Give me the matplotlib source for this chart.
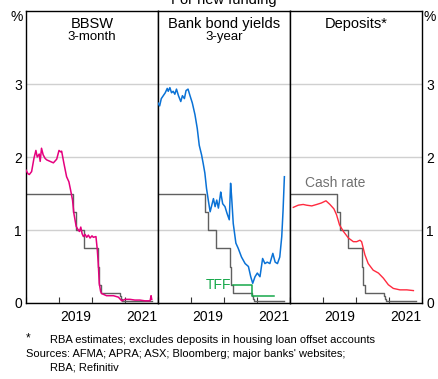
import matplotlib
matplotlib.use("Agg")
import matplotlib.pyplot as plt
import numpy as np

plt.rcParams['font.family'] = ['Liberation Sans', 'DejaVu Sans']

# cash rate (interbank overnight), step series
cash_t = [2018.0, 2019.42, 2019.51, 2019.75, 2020.17, 2020.21, 2020.26, 2020.84, 2020.88, 2020.92, 2021.83]
cash_v = [1.50, 1.25, 1.00, 0.75, 0.50, 0.25, 0.14, 0.10, 0.05, 0.03, 0.03]

# BBSW 3-month
bbsw_t = [2018.0, 2018.06, 2018.10, 2018.17, 2018.24, 2018.30, 2018.34, 2018.40, 2018.43,
          2018.47, 2018.52, 2018.58, 2018.63, 2018.73, 2018.83, 2018.93, 2019.0, 2019.05,
          2019.08, 2019.15, 2019.23, 2019.30, 2019.35, 2019.41, 2019.45, 2019.52, 2019.57,
          2019.62, 2019.66, 2019.70, 2019.74, 2019.79, 2019.84, 2019.89, 2019.94, 2020.0,
          2020.04, 2020.12, 2020.16, 2020.19, 2020.22, 2020.26, 2020.29, 2020.44, 2020.65,
          2020.80, 2020.90, 2021.0, 2021.15, 2021.30, 2021.45, 2021.60, 2021.76, 2021.79, 2021.81]
bbsw_v = [1.82, 1.77, 1.76, 1.80, 1.98, 2.09, 2.00, 2.04, 1.94,
          2.12, 2.03, 1.98, 1.96, 1.94, 1.92, 1.97, 2.09, 2.07,
          2.08, 1.91, 1.73, 1.66, 1.55, 1.41, 1.23, 1.05, 1.01,
          0.98, 1.04, 0.95, 0.91, 0.94, 0.90, 0.93, 0.89, 0.92,
          0.90, 0.91, 0.73, 0.54, 0.27, 0.16, 0.13, 0.10, 0.10,
          0.08, 0.03, 0.05, 0.05, 0.04, 0.04, 0.03, 0.03, 0.10, 0.05]

# bank bond yields 3-year
bond_t = [2018.0, 2018.05, 2018.10, 2018.16, 2018.22, 2018.28, 2018.31, 2018.36, 2018.41,
          2018.46, 2018.51, 2018.56, 2018.62, 2018.69, 2018.74, 2018.80, 2018.85, 2018.91,
          2018.97, 2019.04, 2019.12, 2019.19, 2019.25, 2019.32, 2019.37, 2019.42, 2019.47,
          2019.53, 2019.58, 2019.63, 2019.68, 2019.73, 2019.78, 2019.83, 2019.88, 2019.90,
          2019.96, 2020.03, 2020.09, 2020.16, 2020.20, 2020.23, 2020.28, 2020.36, 2020.43,
          2020.53, 2020.64, 2020.74, 2020.81, 2020.87, 2020.94, 2021.01, 2021.09, 2021.17,
          2021.24, 2021.31, 2021.39, 2021.48, 2021.55, 2021.62, 2021.69, 2021.75, 2021.79, 2021.83]
bond_v = [2.74, 2.70, 2.80, 2.84, 2.88, 2.94, 2.90, 2.95, 2.88,
          2.90, 2.86, 2.93, 2.84, 2.76, 2.84, 2.80, 2.91, 2.93,
          2.84, 2.74, 2.58, 2.39, 2.16, 2.03, 1.91, 1.78, 1.57,
          1.39, 1.25, 1.34, 1.43, 1.32, 1.41, 1.30, 1.45, 1.52,
          1.36, 1.32, 1.23, 1.14, 1.64, 1.46, 1.09, 0.82, 0.75,
          0.63, 0.54, 0.50, 0.36, 0.27, 0.36, 0.41, 0.36, 0.61,
          0.54, 0.56, 0.54, 0.68, 0.56, 0.54, 0.63, 0.91, 1.27, 1.73]

# TFF rate
tff_t = [2020.26, 2020.84, 2020.84, 2021.50]
tff_v = [0.25, 0.25, 0.10, 0.10]

# deposits
dep_t = [2018.10, 2018.25, 2018.40, 2018.50, 2018.66, 2018.81, 2018.95, 2019.09, 2019.21,
         2019.33, 2019.41, 2019.50, 2019.62, 2019.77, 2019.92, 2020.02, 2020.12, 2020.17,
         2020.27, 2020.37, 2020.52, 2020.68, 2020.83, 2020.98, 2021.13, 2021.33, 2021.54, 2021.74]
dep_v = [1.31, 1.34, 1.35, 1.34, 1.33, 1.35, 1.37, 1.40, 1.35,
         1.29, 1.21, 1.07, 0.98, 0.89, 0.84, 0.84, 0.86, 0.84,
         0.66, 0.54, 0.45, 0.41, 0.34, 0.25, 0.20, 0.18, 0.18, 0.17]

W, H = 438, 379
fig = plt.figure(figsize=(W / 100, H / 100), dpi=100)

grey = '#606060'
panels = []
for i in range(3):
    x0 = 26 + i * 132
    ax = fig.add_axes([x0 / W, (H - 303) / H, 132 / W, 292 / H])
    ax.set_xlim(2018, 2022)
    ax.set_ylim(0, 4)
    ax.set_yticks([0, 1, 2, 3])
    ax.grid(axis='y', color='#d0d0d0', lw=1.0)
    ax.set_axisbelow(True)
    ax.set_xticks([2018, 2019, 2020, 2021, 2022])
    ax.set_xticklabels([])
    ax.set_xticks([2019.5, 2021.5], minor=True)
    ax.set_xticklabels(['2019', '2021'], minor=True, fontsize=10)
    ax.tick_params(axis='x', which='major', direction='in', length=4, width=0.8, color='#333333')
    ax.tick_params(axis='x', which='minor', length=0, pad=5)
    ax.tick_params(axis='y', length=0, labelsize=10)
    for s in ax.spines.values():
        s.set_color('black')
        s.set_linewidth(1.0)
    ax.step(cash_t, cash_v, where='post', color=grey, lw=1.0, zorder=2)
    panels.append(ax)

a1, a2, a3 = panels
a1.tick_params(axis='y', labelleft=True, labelright=False, pad=3)
a2.tick_params(axis='y', labelleft=False, labelright=False)
a3.tick_params(axis='y', labelleft=False, labelright=True, pad=3)

a1.plot(bbsw_t, bbsw_v, color='#e5007e', lw=1.1, zorder=3)
a2.plot(bond_t, bond_v, color='#0a72d6', lw=1.1, zorder=3)
a2.plot(tff_t, tff_v, color='#16a84a', lw=1.1, zorder=3)
a2.text(2020.22, 0.25, 'TFF', color='#16a84a', fontsize=10, ha='right', va='center')
a3.plot(dep_t, dep_v, color='#ff2a3f', lw=1.0, zorder=3)
a3.text(2018.45, 1.65, 'Cash rate', color='#707070', fontsize=10, ha='left', va='center')

a1.text(0.5, 0.955, 'BBSW', transform=a1.transAxes, ha='center', va='center', fontsize=10.5)
a1.text(0.5, 0.91, '3-month', transform=a1.transAxes, ha='center', va='center', fontsize=9.5)
a2.text(0.5, 0.955, 'Bank bond yields', transform=a2.transAxes, ha='center', va='center', fontsize=10.5)
a2.text(0.5, 0.91, '3-year', transform=a2.transAxes, ha='center', va='center', fontsize=9.5)
a3.text(0.5, 0.955, 'Deposits*', transform=a3.transAxes, ha='center', va='center', fontsize=10.5)

fig.text(17 / W, 1 - 17 / H, '%', ha='center', va='center', fontsize=10)
fig.text(430 / W, 1 - 17 / H, '%', ha='center', va='center', fontsize=10)
fig.text(224 / W, 1 - 0 / H, 'For new funding', ha='center', va='center', fontsize=10.5)

fig.text(28 / W, 1 - 338 / H, '*', ha='center', va='center', fontsize=8.5)
fig.text(50 / W, 1 - 340 / H, 'RBA estimates; excludes deposits in housing loan offset accounts',
         ha='left', va='center', fontsize=8)
fig.text(26 / W, 1 - 354 / H, "Sources: AFMA; APRA; ASX; Bloomberg; major banks' websites;",
         ha='left', va='center', fontsize=8)
fig.text(50 / W, 1 - 368 / H, 'RBA; Refinitiv', ha='left', va='center', fontsize=8)

fig.savefig('out.png', dpi=100)
